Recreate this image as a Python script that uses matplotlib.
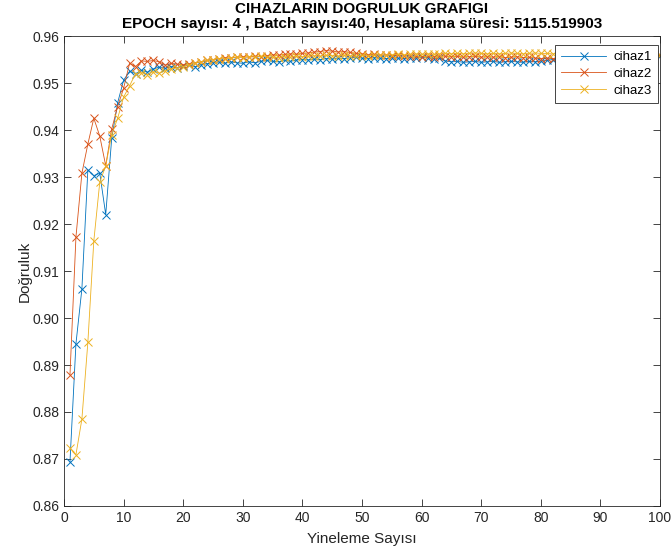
import numpy as np
import matplotlib
matplotlib.use("Agg")
import matplotlib.pyplot as plt

plt.rcParams['font.family'] = ['Liberation Sans', 'DejaVu Sans']

# veriler
yineleme = np.arange(1, 101)

cihaz1 = [0.8694, 0.8945, 0.9062, 0.9315, 0.9303, 0.9308, 0.9220, 0.9382, 0.9458, 0.9506,
          0.9525, 0.9520, 0.9527, 0.9523, 0.9530, 0.9534, 0.9531, 0.9535, 0.9533, 0.9536,
          0.9538, 0.9535, 0.9539, 0.9541, 0.9543, 0.9545, 0.9542, 0.9545, 0.9543, 0.9542,
          0.9545, 0.9543, 0.9546, 0.9548, 0.9546, 0.9545, 0.9548, 0.9546, 0.9549, 0.9550,
          0.9549, 0.9551, 0.9550, 0.9552, 0.9551, 0.9553, 0.9552, 0.9554, 0.9555, 0.9553,
          0.9552, 0.9554, 0.9553, 0.9552, 0.9554, 0.9553, 0.9552, 0.9554, 0.9553, 0.9555,
          0.9554, 0.9552, 0.9553, 0.9547, 0.9545, 0.9546, 0.9544, 0.9545, 0.9546, 0.9544,
          0.9545, 0.9546, 0.9544, 0.9545, 0.9546, 0.9545, 0.9544, 0.9546, 0.9545, 0.9547,
          0.9548, 0.9550, 0.9549, 0.9551, 0.9552, 0.9553, 0.9554, 0.9555, 0.9556, 0.9557,
          0.9557, 0.9558, 0.9557, 0.9558, 0.9559, 0.9558, 0.9559, 0.9558, 0.9559, 0.9558]

cihaz2 = [0.8879, 0.9172, 0.9308, 0.9370, 0.9425, 0.9387, 0.9324, 0.9402, 0.9450, 0.9489,
          0.9542, 0.9535, 0.9547, 0.9546, 0.9548, 0.9545, 0.9538, 0.9542, 0.9540, 0.9539,
          0.9541, 0.9543, 0.9545, 0.9548, 0.9550, 0.9552, 0.9554, 0.9553, 0.9555, 0.9556,
          0.9555, 0.9557, 0.9556, 0.9558, 0.9560, 0.9559, 0.9561, 0.9562, 0.9561, 0.9563,
          0.9564, 0.9566, 0.9567, 0.9569, 0.9568, 0.9566, 0.9567, 0.9565, 0.9563, 0.9562,
          0.9560, 0.9561, 0.9559, 0.9560, 0.9558, 0.9559, 0.9557, 0.9558, 0.9557, 0.9556,
          0.9557, 0.9556, 0.9558, 0.9557, 0.9556, 0.9557, 0.9555, 0.9556, 0.9557, 0.9555,
          0.9556, 0.9555, 0.9556, 0.9554, 0.9555, 0.9556, 0.9554, 0.9555, 0.9553, 0.9552,
          0.9553, 0.9552, 0.9554, 0.9555, 0.9556, 0.9557, 0.9558, 0.9557, 0.9558, 0.9559,
          0.9558, 0.9559, 0.9560, 0.9559, 0.9560, 0.9559, 0.9560, 0.9559, 0.9560, 0.9559]

cihaz3 = [0.8723, 0.8709, 0.8785, 0.8948, 0.9164, 0.9289, 0.9324, 0.9390, 0.9425, 0.9470,
          0.9494, 0.9520, 0.9522, 0.9518, 0.9524, 0.9521, 0.9526, 0.9530, 0.9532, 0.9535,
          0.9538, 0.9542, 0.9545, 0.9548, 0.9550, 0.9552, 0.9551, 0.9553, 0.9555, 0.9554,
          0.9556, 0.9555, 0.9557, 0.9556, 0.9555, 0.9554, 0.9556, 0.9555, 0.9557, 0.9556,
          0.9557, 0.9558, 0.9557, 0.9559, 0.9558, 0.9557, 0.9559, 0.9558, 0.9557, 0.9559,
          0.9558, 0.9559, 0.9560, 0.9559, 0.9560, 0.9561, 0.9560, 0.9561, 0.9562, 0.9561,
          0.9562, 0.9561, 0.9562, 0.9563, 0.9562, 0.9563, 0.9562, 0.9563, 0.9564, 0.9563,
          0.9562, 0.9563, 0.9562, 0.9563, 0.9564, 0.9563, 0.9562, 0.9563, 0.9564, 0.9563,
          0.9563, 0.9562, 0.9563, 0.9562, 0.9563, 0.9562, 0.9563, 0.9562, 0.9563, 0.9562,
          0.9561, 0.9562, 0.9561, 0.9562, 0.9561, 0.9562, 0.9561, 0.9562, 0.9561, 0.9560]

etiketler = ['cihaz1', 'cihaz2', 'cihaz3']
renkler = ['#0072BD', '#D95319', '#EDB120']

# grafik
fig = plt.figure(figsize=(6.71, 5.55), dpi=100)
ax = fig.add_axes([0.0954, 0.0883, 0.8882, 0.8468])

for seri, etiket, renk in zip([cihaz1, cihaz2, cihaz3], etiketler, renkler):
    ax.plot(yineleme, seri, color=renk, linewidth=0.6, marker='x',
            markersize=6, markeredgewidth=0.7, label=etiket)

ax.set_xlim(0, 100)
ax.set_ylim(0.86, 0.96)
ax.set_xticks(np.arange(0, 101, 10))
ax.set_yticks(np.arange(0.86, 0.9601, 0.01))
ax.set_yticklabels(['%.2f' % v for v in np.arange(0.86, 0.9601, 0.01)])

ax.tick_params(direction='in', top=True, right=True, length=5, width=0.6,
               labelsize=10, colors='#262626')
for s in ax.spines.values():
    s.set_color('#262626')
    s.set_linewidth(0.6)

ax.set_xlabel('Yineleme Sayısı', fontsize=11, color='#262626', labelpad=5)
ax.set_ylabel('Doğruluk', fontsize=11, color='#262626', labelpad=0)
ax.set_title('CIHAZLARIN DOGRULUK GRAFIGI\n'
             'EPOCH sayısı: 4 , Batch sayısı:40, Hesaplama süresi: 5115.519903',
             fontsize=11, fontweight='bold', pad=6, linespacing=1.05)

leg = ax.legend(loc='upper right', bbox_to_anchor=(0.997, 0.981), fontsize=9.5,
                fancybox=False, framealpha=1, borderaxespad=0, handlelength=3.4,
                labelspacing=0.35, borderpad=0.45, handletextpad=0.6)
leg.get_frame().set_edgecolor('#262626')
leg.get_frame().set_linewidth(0.6)

fig.savefig('out.png', dpi=100)
